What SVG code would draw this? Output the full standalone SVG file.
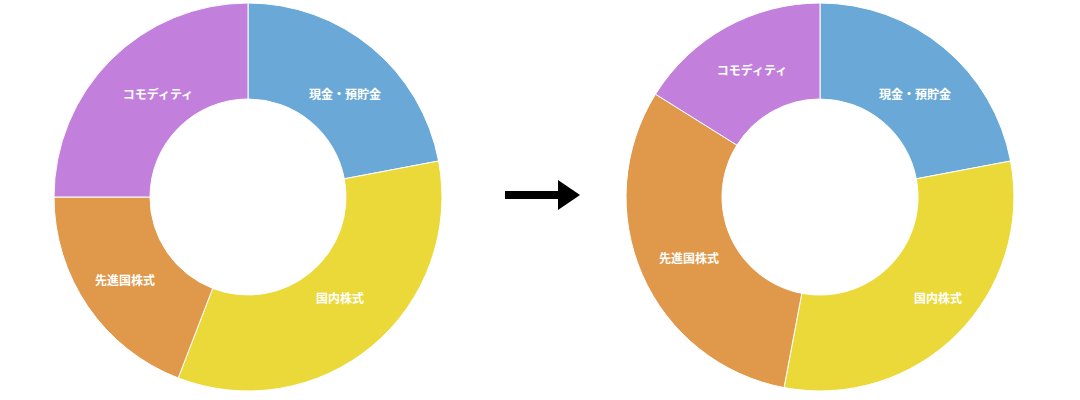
<svg xmlns="http://www.w3.org/2000/svg" width="1080" height="400" viewBox="0 0 1080 400">
<style>
.s{stroke:#fff;stroke-width:1}
.b{fill:#6aa9d7}.y{fill:#ebd93a}.o{fill:#e0984a}.p{fill:#c27fdc}
text{font-family:"Noto Sans CJK JP","Noto Sans",sans-serif;font-size:12px;font-weight:bold;fill:#fff;text-anchor:middle;dominant-baseline:central}
</style>
<rect width="1080" height="400" fill="#fff"/>
<g id="left-chart">
<g id="l-cash"><path class="s b" d="M248,3 A194,194 0 0 1 438.6,161 L344.3,178.8 A98,98 0 0 0 248,99 Z"/><text x="345" y="93">現金・預貯金</text></g>
<g id="l-domestic"><path class="s y" d="M438.6,161 A194,194 0 0 1 178.2,378 L212.7,288.4 A98,98 0 0 0 344.3,178.8 Z"/><text x="340" y="297">国内株式</text></g>
<g id="l-developed"><path class="s o" d="M178.2,378 A194,194 0 0 1 54,197 L150,197 A98,98 0 0 0 212.7,288.4 Z"/><text x="125" y="279">先進国株式</text></g>
<g id="l-commodity"><path class="s p" d="M54,197 A194,194 0 0 1 248,3 L248,99 A98,98 0 0 0 150,197 Z"/><text x="158" y="93">コモディティ</text></g>
</g>
<g id="connectors">
<line x1="505" y1="195" x2="562" y2="195" stroke="#000" stroke-width="8"/>
<polygon points="558,180 580,195 558,210" fill="#000"/>
</g>
<g id="right-chart">
<g id="r-cash"><path class="s b" d="M820,3 A194,194 0 0 1 1010.6,161 L916.3,178.8 A98,98 0 0 0 820,99 Z"/><text x="915" y="93">現金・預貯金</text></g>
<g id="r-domestic"><path class="s y" d="M1010.6,161 A194,194 0 0 1 784,387.6 L801.8,293.3 A98,98 0 0 0 916.3,178.8 Z"/><text x="938" y="297">国内株式</text></g>
<g id="r-developed"><path class="s o" d="M784,387.6 A194,194 0 0 1 655.5,94.2 L736.9,145.1 A98,98 0 0 0 801.8,293.3 Z"/><text x="689" y="257">先進国株式</text></g>
<g id="r-commodity"><path class="s p" d="M655.5,94.2 A194,194 0 0 1 820,3 L820,99 A98,98 0 0 0 736.9,145.1 Z"/><text x="752" y="69">コモディティ</text></g>
</g>
</svg>
